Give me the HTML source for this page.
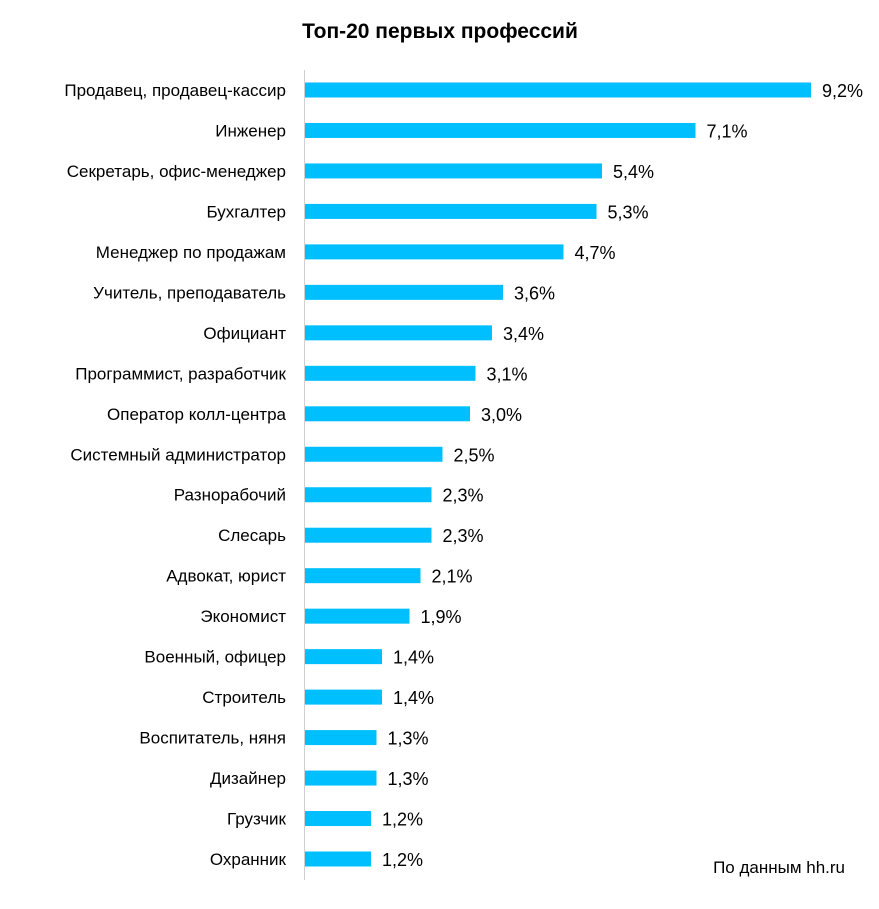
<!DOCTYPE html>
<html><head><meta charset="utf-8"><style>
body{margin:0;background:#fff;width:879px;height:904px;overflow:hidden;font-family:"Liberation Sans",Arial,sans-serif}
</style></head><body>
<svg id="chart" width="879" height="904" xmlns="http://www.w3.org/2000/svg">
<text x="440" y="38" text-anchor="middle" font-size="21" font-weight="bold" fill="#000">Топ-20 первых профессий</text>
<line x1="304.5" y1="70" x2="304.5" y2="880" stroke="#d0d0d0" stroke-width="1"/>
<g id="bars"></g>
<text x="845" y="873" text-anchor="end" font-size="17" fill="#000">По данным  hh.ru</text>
</svg>
<script>
const categories=["Продавец, продавец-кассир","Инженер","Секретарь, офис-менеджер","Бухгалтер","Менеджер по продажам","Учитель, преподаватель","Официант","Программист,  разработчик","Оператор колл-центра","Системный администратор","Разнорабочий","Слесарь","Адвокат, юрист","Экономист","Военный, офицер","Строитель","Воспитатель, няня","Дизайнер","Грузчик","Охранник"];
const values=[9.2,7.1,5.4,5.3,4.7,3.6,3.4,3.1,3.0,2.5,2.3,2.3,2.1,1.9,1.4,1.4,1.3,1.3,1.2,1.2];
const valueLabels=["9,2%","7,1%","5,4%","5,3%","4,7%","3,6%","3,4%","3,1%","3,0%","2,5%","2,3%","2,3%","2,1%","1,9%","1,4%","1,4%","1,3%","1,3%","1,2%","1,2%"];
const x0=305, pxPer=55;
const xScale=v=>x0+v*pxPer;
const yCenter=i=>90+i*(769/19);
const g=document.getElementById('bars');
const NS="http://www.w3.org/2000/svg";
categories.forEach((c,i)=>{
  const y=yCenter(i);
  const r=document.createElementNS(NS,'rect');
  
  
  r.setAttribute('x',x0);r.setAttribute('y',y-7.5);
  r.setAttribute('width',xScale(values[i])-x0);r.setAttribute('height',15);
  r.setAttribute('fill','#00BFFF');
  g.appendChild(r);
  const t=document.createElementNS(NS,'text');
  
  
  t.setAttribute('x',286);t.setAttribute('y',y+6);
  t.setAttribute('text-anchor','end');t.setAttribute('font-size','17');
  t.textContent=c;g.appendChild(t);
  const v=document.createElementNS(NS,'text');
  
  
  v.setAttribute('x',xScale(values[i])+11);v.setAttribute('y',y+7);
  v.setAttribute('font-size','18');
  v.textContent=valueLabels[i];g.appendChild(v);
});
</script>
</body></html>
